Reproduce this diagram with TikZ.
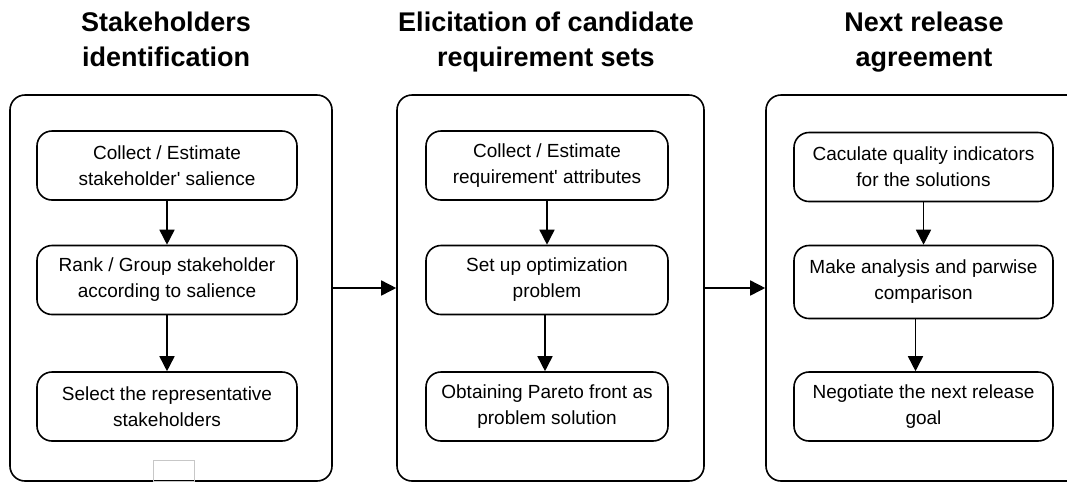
\documentclass[tikz,border=0pt]{standalone}
\usepackage{fontspec}
\setmainfont{Liberation Sans}
\usetikzlibrary{arrows.meta}
\begin{document}
\begin{tikzpicture}[x=1pt,y=-1pt,
  panel/.style={draw,line width=1.6pt,rounded corners=15pt,minimum width=#1,minimum height=386pt,inner sep=0pt},
  stepbox/.style={draw,line width=1.6pt,rounded corners=15pt,minimum width=#1,minimum height=69pt,inner sep=0pt,align=center,font=\fontsize{19pt}{26pt}\selectfont},
  ttl/.style={anchor=north,inner sep=0pt,align=center,font=\fontsize{27pt}{35pt}\selectfont\bfseries},
  arr/.style={line width=1.6pt,-{Triangle[length=15pt,width=15pt]}}]
\useasboundingbox (0,0) rectangle (1067,483);
% titles
\node[ttl] (t1) at (166,12) {Stakeholders\\identification};
\node[ttl] (t2) at (546,12) {Elicitation of candidate\\requirement sets};
\node[ttl] (t3) at (924,12) {Next release\\agreement};
% panels
\node[panel=322pt] (p1) at (171,288) {};
\node[panel=307pt] (p2) at (550.5,288) {};
\node[panel=316pt] (p3) at (924,288) {};
% left boxes
\node[stepbox=260pt] (a1) at (167,165.5) {Collect / Estimate\\stakeholder\textquotesingle{} salience};
\node[stepbox=260pt] (a2) at (167,280) {Rank / Group stakeholder\\according to salience};
\node[stepbox=260pt] (a3) at (167,406.5) {Select the representative\\stakeholders};
% middle boxes
\node[stepbox=242pt] (b1) at (547,165.5) {Collect / Estimate\\requirement\textquotesingle{} attributes};
\node[stepbox=242pt] (b2) at (547,280) {Set up optimization\\problem};
\node[stepbox=242pt] (b3) at (547,406.5) {Obtaining Pareto front as\\problem solution};
% right boxes
\node[stepbox=259pt] (c1) at (923.5,167) {Caculate quality indicators\\for the solutions};
\node[stepbox=259pt,minimum height=73pt] (c2) at (923.5,282) {Make analysis and parwise\\comparison};
\node[stepbox=259pt] (c3) at (923.5,406.5) {Negotiate the next release\\goal};
% small grey box
\node[draw=black!22,line width=0.8pt,minimum width=41pt,minimum height=21pt,inner sep=0pt] (g) at (173.5,470.5) {};
% arrows
\draw[arr] (a1) -- (a2);
\draw[arr] (a2) -- (a3);
\draw[arr] (b1) -- (b2);
\draw[arr] ([xshift=-2pt]b2.south) -- ([xshift=-2pt]b3.north);
\draw[arr] (c1) -- (c2);
\draw[arr] ([xshift=-8pt]c2.south) -- ([xshift=-8pt]c3.north);
\draw[arr] (p1) -- (p2);
\draw[arr] (p2) -- (p3);
\end{tikzpicture}
\end{document}
